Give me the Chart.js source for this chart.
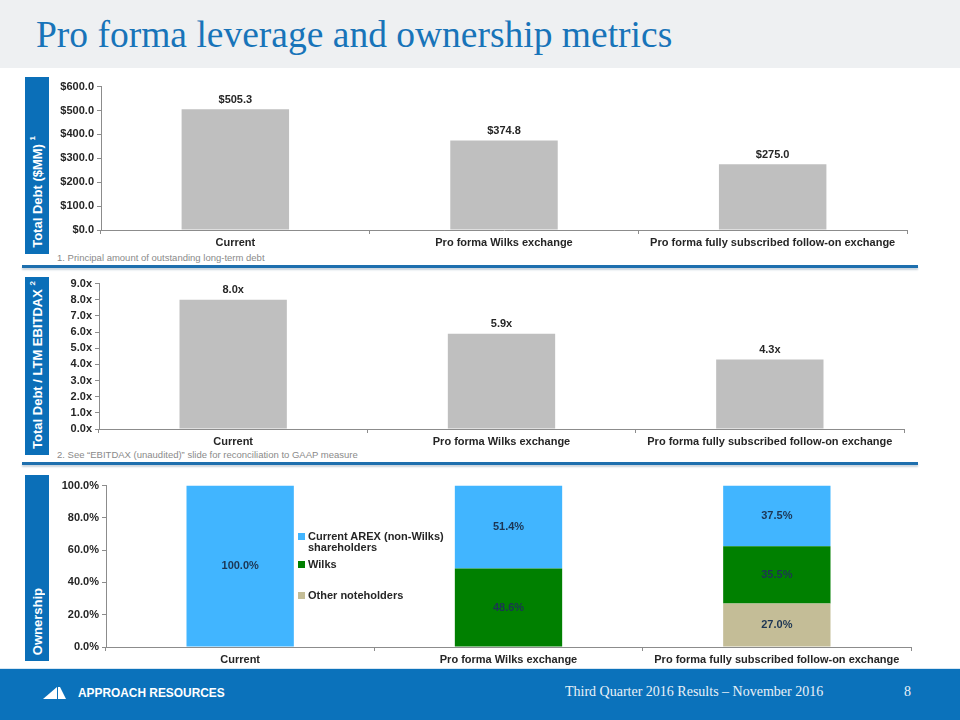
<!DOCTYPE html>
<html>
<head>
<meta charset="utf-8">
<script src="https://cdn.jsdelivr.net/npm/chart.js@4.4.1/dist/chart.umd.min.js"></script>
<style>
    body { margin: 0; background: #fff; }
    #slide { position: relative; width: 960px; height: 720px; overflow: hidden; background: #fff; font-family: "Liberation Sans", Arial, sans-serif; }
    #header { position: absolute; left: 0; top: 0; width: 960px; height: 68px; background: #eef0f2; }
    #title { position: absolute; left: 36px; top: 13px; font-family: "Liberation Serif", "DejaVu Serif", serif; font-size: 37.5px; color: #1874b9; white-space: nowrap; }
    .side { position: absolute; left: 25px; width: 24px; background: #0b6fb8; display: flex; flex-direction: column; justify-content: flex-end; align-items: center; }
    .side span { writing-mode: vertical-rl; transform: rotate(180deg); color: #fff; font-weight: bold; font-size: 13px; white-space: nowrap; padding-top: 6px; }
    .side sup { font-size: 8px; }
    .note { position: absolute; left: 57px; font-size: 9.5px; color: #8a8a8a; white-space: nowrap; }
    .sep { position: absolute; left: 22px; width: 896px; height: 3px; background: #1e6fae; box-shadow: 0 2px 2px #c9d3dc; }
    canvas { position: absolute; }
    #legend { position: absolute; left: 298px; top: 531px; font-size: 11px; font-weight: bold; color: #262626; line-height: 11px; }
    #legend div { position: relative; padding-left: 10px; }
    #legend i { position: absolute; left: 0; top: 2px; width: 7px; height: 7px; }
    #footer { position: absolute; left: 0; top: 668px; width: 960px; height: 52px; background: #0b72bb; border-top: 1px solid #d7e6f2; }
    #brand { position: absolute; left: 78px; top: 17px; color: #fff; font-weight: bold; font-size: 11.9px; }
    #logo { position: absolute; left: 43px; top: 18px; }
    #foot-text { position: absolute; left: 565px; top: 15px; color: #e9f1f8; font-family: "Liberation Serif", serif; font-size: 14px; white-space: nowrap; }
    #page { position: absolute; left: 904px; top: 15px; color: #e9f1f8; font-family: "Liberation Serif", serif; font-size: 14px; }
</style>
</head>
<body>
<div id="slide">
    <div id="header"><div id="title">Pro forma leverage and ownership metrics</div></div>

    <div class="side" style="top:77px;height:177px"><span>Total Debt ($MM) <sup>1</sup></span></div>
    <canvas id="debt-chart" width="858" height="171" style="left:51px;top:77px"></canvas>
    <div class="note" style="top:252px">1. Principal amount of outstanding long-term debt</div>
    <div class="sep" style="top:265px"></div>

    <div class="side" style="top:277px;height:178px"><span>Total Debt / LTM EBITDAX <sup>2</sup></span></div>
    <canvas id="leverage-chart" width="857" height="173" style="left:49px;top:274px"></canvas>
    <div class="note" style="top:449px">2. See “EBITDAX (unaudited)” slide for reconciliation to GAAP measure</div>
    <div class="sep" style="top:462px"></div>

    <div class="side" style="top:475px;height:186px"><span>Ownership</span></div>
    <canvas id="ownership-chart" width="857" height="189" style="left:56px;top:476px"></canvas>
    <div id="legend"></div>

    <div id="footer">
        <svg id="logo" width="24" height="13" viewBox="0 0 24 13">
            <polygon points="0,12 14,0 14,12" fill="#fff"/>
            <polygon points="15,0 17,0 23,12 15,12" fill="#fff"/>
        </svg>
        <div id="brand">APPROACH RESOURCES</div>
        <div id="foot-text">Third Quarter 2016 Results – November 2016</div>
        <div id="page">8</div>
    </div>
</div>

<script>
    // Data
    var categories = ["Current", "Pro forma Wilks exchange", "Pro forma fully subscribed follow-on exchange"];
    var totalDebt = [505.3, 374.8, 275.0];
    var leverage = [8.0, 5.9, 4.3];
    var ownershipLabels = ["Current AREX (non-Wilks) shareholders", "Wilks", "Other noteholders"];
    var arexShare = [100.0, 51.4, 37.5];
    var wilksShare = [null, 48.6, 35.5];
    var otherShare = [null, null, 27.0];
    var debtTicks = [0, 100, 200, 300, 400, 500, 600];
    var leverageTicks = [0, 1, 2, 3, 4, 5, 6, 7, 8, 9];
    var ownershipTicks = [0, 20, 40, 60, 80, 100];

    var GREY_BAR = "#bfbfbf";
    var BLUE = "#41b5ff";
    var GREEN = "#008000";
    var TAN = "#c4bd97";
    var TEXT = "#262626";
    var AXIS = "#8c8c8c";
    var FONT = "'Liberation Sans', Arial, sans-serif";

    // draw value labels on bars
    var valueLabels = {
        id: "valueLabels",
        afterDatasetsDraw: function (chart, args, opts) {
            var ctx = chart.ctx;
            ctx.save();
            ctx.font = "bold 11px " + FONT;
            ctx.textAlign = "center";
            chart.data.datasets.forEach(function (ds, di) {
                var meta = chart.getDatasetMeta(di);
                meta.data.forEach(function (bar, i) {
                    var v = ds.data[i];
                    if (v === null || v === undefined) return;
                    var txt = opts.format(v);
                    if (opts.mode === "center") {
                        ctx.fillStyle = opts.color;
                        ctx.textBaseline = "middle";
                        ctx.fillText(txt, bar.x, (bar.y + bar.base) / 2);
                    } else {
                        ctx.fillStyle = TEXT;
                        ctx.textBaseline = "bottom";
                        ctx.fillText(txt, bar.x, bar.y - 4);
                    }
                });
            });
            ctx.restore();
        }
    };

    function makeScales(ticks, fmt, yWidth) {
        return {
            x: {
                stacked: true,
                grid: { display: true, drawOnChartArea: false, tickLength: 4, color: AXIS, offset: true },
                border: { color: AXIS },
                ticks: { color: TEXT, font: { family: FONT, size: 11, weight: "bold" }, padding: 2, maxRotation: 0 },
                afterFit: function (s) { s.height = 18; }
            },
            y: {
                stacked: true,
                min: ticks[0],
                max: ticks[ticks.length - 1],
                afterBuildTicks: function (s) { s.ticks = ticks.map(function (t) { return { value: t }; }); },
                grid: { display: true, drawOnChartArea: false, tickLength: 4, color: AXIS },
                border: { color: AXIS },
                ticks: { color: TEXT, font: { family: FONT, size: 11, weight: "bold" }, padding: 3, autoSkip: false, callback: fmt },
                afterFit: function (s) { s.width = yWidth; }
            }
        };
    }

    function baseOptions(ticks, fmt, yWidth, labelOpts) {
        return {
            responsive: false,
            animation: false,
            devicePixelRatio: 1,
            layout: { padding: { top: 8, right: 2, left: 0, bottom: 0 } },
            plugins: { legend: { display: false }, tooltip: { enabled: false }, valueLabels: labelOpts },
            scales: makeScales(ticks, fmt, yWidth)
        };
    }

    // Total debt chart
    new Chart(document.getElementById("debt-chart"), {
        type: "bar",
        data: {
            labels: categories,
            datasets: [{ label: "Total Debt", data: totalDebt, backgroundColor: GREY_BAR, categoryPercentage: 1, barPercentage: 0.4 }]
        },
        options: baseOptions(debtTicks, function (v) { return "$" + Number(v).toFixed(1); }, 50,
            { mode: "end", format: function (v) { return "$" + v.toFixed(1); } }),
        plugins: [valueLabels]
    });

    // Leverage chart
    new Chart(document.getElementById("leverage-chart"), {
        type: "bar",
        data: {
            labels: categories,
            datasets: [{ label: "Total Debt / LTM EBITDAX", data: leverage, backgroundColor: GREY_BAR, categoryPercentage: 1, barPercentage: 0.4 }]
        },
        options: baseOptions(leverageTicks, function (v) { return Number(v).toFixed(1) + "x"; }, 50,
            { mode: "end", format: function (v) { return v.toFixed(1) + "x"; } }),
        plugins: [valueLabels]
    });

    // Ownership chart (bottom of stack first)
    var ownershipSets = [
        { label: ownershipLabels[2], data: otherShare, backgroundColor: TAN },
        { label: ownershipLabels[1], data: wilksShare, backgroundColor: GREEN },
        { label: ownershipLabels[0], data: arexShare, backgroundColor: BLUE }
    ];
    ownershipSets.forEach(function (d) { d.categoryPercentage = 1; d.barPercentage = 0.4; });

    new Chart(document.getElementById("ownership-chart"), {
        type: "bar",
        data: { labels: categories, datasets: ownershipSets },
        options: baseOptions(ownershipTicks, function (v) { return Number(v).toFixed(1) + "%"; }, 50,
            { mode: "center", color: "#1c3553", format: function (v) { return v.toFixed(1) + "%"; } }),
        plugins: [valueLabels]
    });

    // legend
    var legendHtml = "";
    var legendColors = [BLUE, GREEN, TAN];
    var legendGaps = [0, 6, 20];
    ownershipLabels.forEach(function (l, i) {
        var txt = i === 0 ? "Current AREX (non-Wilks)<br>shareholders" : l;
        legendHtml += '<div style="margin-top:' + legendGaps[i] + 'px"><i style="background:' + legendColors[i] + '"></i>' + txt + '</div>';
    });
    document.getElementById("legend").innerHTML = legendHtml;
</script>
</body>
</html>
